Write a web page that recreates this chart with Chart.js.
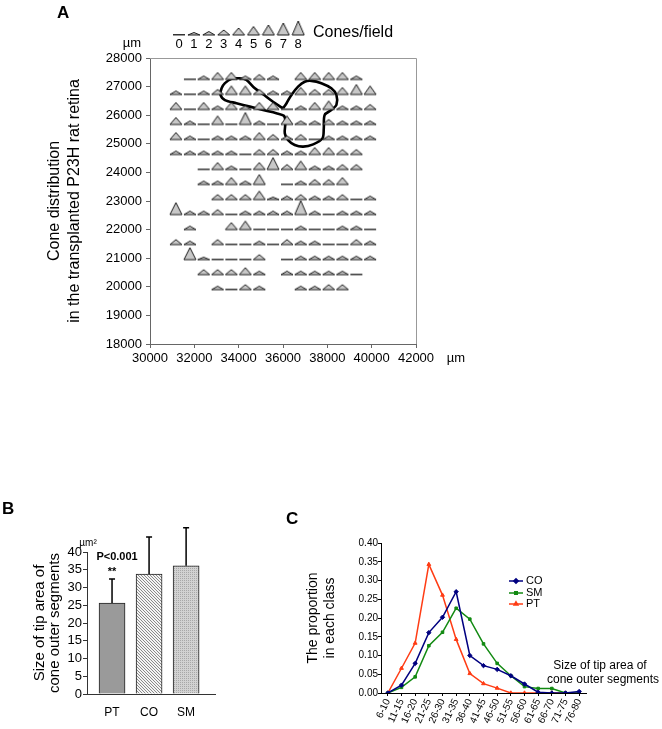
<!DOCTYPE html>
<html>
<head>
<meta charset="utf-8">
<script src="https://cdn.jsdelivr.net/npm/chart.js@4.4.1/dist/chart.umd.min.js"></script>
<style>
  body { margin: 0; background: #fff; width: 662px; height: 729px; position: relative; overflow: hidden;
         font-family: "Liberation Sans", Arial, sans-serif; }
  canvas { position: absolute; }
  .panel { position: absolute; font-weight: bold; font-size: 17px; line-height: 17px; }
</style>
</head>
<body>
<canvas id="coneMap" width="470" height="375" style="left:0;top:0"></canvas>
<canvas id="tipBars" width="240" height="250" style="left:0;top:470px"></canvas>
<canvas id="tipDist" width="412" height="229" style="left:250px;top:500px"></canvas>
<div class="panel" style="left:57px;top:4px">A</div>
<div class="panel" style="left:2px;top:500px">B</div>
<div class="panel" style="left:286px;top:510px">C</div>

<script>
// ---- panel A : cone map ----
const colX = [31170, 31800, 32420, 33050, 33670, 34300, 34930, 35550, 36180, 36800, 37430, 38060, 38680, 39310, 39930];
const rowY = [27250, 26725, 26200, 25675, 25150, 24625, 24100, 23575, 23050, 22525, 22000, 21475, 20950, 20425, 19900];
const _ = null;
// cones per field, one row per rowY, one column per colX (null = no field)
const conesPerField = [
  [_, 0, 2, 4, 4, 2, 3, 2, _, 4, 4, 4, 4, 2, _],
  [2, 0, 2, 3, 5, 5, 3, 2, 2, 4, 3, 3, 4, 6, 5],
  [4, 0, 4, 2, 4, 2, 4, 4, 0, 2, 4, 5, 2, 2, 3],
  [4, 2, 0, 5, 0, 7, 2, 0, 5, 2, 2, 3, 2, 2, 2],
  [4, 2, 0, 2, 2, 2, 4, 3, 2, 3, 0, 2, 2, 2, 2],
  [2, 2, 2, 2, 2, 0, 3, 3, 2, 2, 4, 4, 3, 3, _],
  [_, _, 0, 4, 2, 0, 4, 7, 3, 5, 2, 2, 3, 3, _],
  [_, _, 2, 2, 4, 2, 6, _, 0, 2, 3, 3, 4, _, _],
  [_, _, _, 3, 3, 3, 5, 1, 2, 3, 2, 2, 3, 0, 2],
  [7, 2, 2, 3, 0, 2, 2, 2, 2, 8, 2, 0, 2, 2, 2],
  [_, 2, _, _, 4, 5, 0, 0, 0, 2, 0, 0, 2, 2, 0],
  [3, 2, _, 3, 0, 0, 2, 0, 3, 2, 2, 0, 0, 3, 2],
  [_, 7, 1, 0, 0, 0, 3, _, 0, 2, 2, 2, 2, 2, 2],
  [_, _, 3, 3, 3, 4, 2, _, 2, 2, 2, 2, 2, 0, _],
  [_, _, _, 2, 0, 3, 2, _, _, 2, 2, 3, 3, _, _]
];
const legendCounts = [0, 1, 2, 3, 4, 5, 6, 7, 8];
// graft outline
const outlineX = [36000, 35550, 35100, 34730, 34350, 34050, 33680, 33380, 33230, 33180, 33380, 33900, 34500, 35100, 35700, 36040,
  36110, 36080, 36230, 36530, 36910, 37360, 37780, 37840, 37880, 38180, 38410, 38410, 38180, 37730, 37280, 36980, 36680, 36380, 36160, 36000];
const outlineY = [26240, 26470, 26730, 26940, 27230, 27290, 27270, 27120, 26940, 26710, 26530, 26420, 26300, 26180, 26070, 25980,
  25770, 25370, 25130, 24960, 24900, 24980, 25190, 25540, 26010, 26180, 26360, 26710, 26940, 27120, 27200, 27170, 27000, 26710, 26420, 26240];

// ---- panel B : tip area ----
const bLabels = ['PT', 'CO', 'SM'];
const bMeans = [25.6, 33.8, 36.1];
const bSD = [6.8, 10.4, 10.7];

// ---- panel C : size distribution ----
const cLabels = ['6-10', '11-15', '16-20', '21-25', '26-30', '31-35', '36-40', '41-45', '46-50', '51-55', '56-60', '61-65', '66-70', '71-75', '76-80'];
const coVals = [0, 0.021, 0.079, 0.161, 0.202, 0.270, 0.100, 0.073, 0.063, 0.046, 0.024, 0.002, 0, 0, 0.004];
const smVals = [0, 0.015, 0.043, 0.126, 0.162, 0.226, 0.197, 0.131, 0.079, 0.046, 0.017, 0.012, 0.012, 0, 0];
const ptVals = [0, 0.066, 0.133, 0.343, 0.261, 0.143, 0.052, 0.025, 0.013, 0, 0, 0, 0, 0, 0];

Chart.defaults.font.family = '"Liberation Sans", Arial, sans-serif';
Chart.defaults.color = '#000';

// triangle glyph per cone count, base sits on the point's y
const triH = [0, 2.5, 3.5, 5, 7, 8.5, 10, 12, 14];
function triImg(n) {
  const c = document.createElement('canvas');
  c.width = 14; c.height = 32;
  const g = c.getContext('2d');
  if (n === 0) {
    g.fillStyle = '#333';
    g.fillRect(1, 15, 12, 1.5);
  } else {
    g.beginPath();
    g.moveTo(1, 16); g.lineTo(7, 16 - triH[n]); g.lineTo(13, 16); g.closePath();
    g.fillStyle = '#c8c8c8'; g.fill();
    g.strokeStyle = '#1a1a1a'; g.lineWidth = 1; g.stroke();
  }
  return c;
}
const triImgs = legendCounts.map(triImg);

const conePoints = [];
conesPerField.forEach((row, r) => row.forEach((n, c) => {
  if (n !== null) conePoints.push({ x: colX[c], y: rowY[r], n: n });
}));

const mapExtras = {
  id: 'mapExtras',
  beforeDatasetsDraw(chart) {
    const { ctx, chartArea: a } = chart;
    ctx.save();
    ctx.strokeStyle = '#999'; ctx.lineWidth = 1;
    ctx.beginPath();
    ctx.moveTo(a.left, a.top + 0.5); ctx.lineTo(a.right + 0.5, a.top + 0.5); ctx.lineTo(a.right + 0.5, a.bottom);
    ctx.stroke();
    ctx.restore();
  },
  afterDraw(chart) {
    const ctx = chart.ctx;
    ctx.save();
    ctx.fillStyle = '#000';
    ctx.textAlign = 'center'; ctx.textBaseline = 'middle';
    ctx.font = '13px "Liberation Sans", Arial, sans-serif';
    legendCounts.forEach((n, i) => {
      const x = 179 + i * 14.9;
      ctx.drawImage(triImgs[n], x - 7, 35 - 16);
      ctx.fillText(String(n), x, 44);
    });
    ctx.fillText('\u00b5m', 132, 43);
    ctx.fillText('\u00b5m', 456, 358);
    ctx.textAlign = 'left';
    ctx.font = '16px "Liberation Sans", Arial, sans-serif';
    ctx.fillText('Cones/field', 313, 33);
    ctx.restore();
  }
};

new Chart(document.getElementById('coneMap'), {
  type: 'scatter',
  data: {
    datasets: [
      {
        data: conePoints,
        pointStyle: ctx => triImgs[ctx.raw ? ctx.raw.n : 0],
        pointRadius: 3
      },
      {
        data: outlineX.map((x, i) => ({ x: x, y: outlineY[i] })),
        showLine: true,
        borderColor: '#000',
        borderWidth: 2.6,
        pointRadius: 0,
        tension: 0.3,
        fill: false
      }
    ]
  },
  options: {
    responsive: false,
    animation: false,
    layout: { padding: { top: 58, right: 54, left: 0, bottom: 0 } },
    plugins: { legend: { display: false }, tooltip: { enabled: false } },
    scales: {
      x: {
        type: 'linear', min: 30000, max: 42000,
        afterFit: s => { s.height = 31; },
        ticks: { stepSize: 2000, font: { size: 13 }, padding: 3, callback: v => String(v) },
        grid: { drawOnChartArea: false, tickLength: 4, color: '#666' },
        border: { color: '#666' }
      },
      y: {
        min: 18000, max: 28000,
        afterFit: s => { s.width = 150; },
        ticks: { stepSize: 1000, font: { size: 13 }, padding: 4, callback: v => String(v) },
        grid: { drawOnChartArea: false, tickLength: 4, color: '#666' },
        border: { color: '#666' },
        title: {
          display: true,
          text: ['Cone distribution', 'in the transplanted P23H rat retina'],
          font: { size: 16, lineHeight: 1.25 },
          padding: { top: 45, bottom: 0 }
        }
      }
    }
  },
  plugins: [mapExtras]
});

// ---- panel B ----
function hatchFill() {
  const c = document.createElement('canvas');
  c.width = 3; c.height = 3;
  const g = c.getContext('2d');
  g.fillStyle = '#f4f4f4'; g.fillRect(0, 0, 3, 3);
  g.fillStyle = '#8a8a8a';
  for (let i = 0; i < 3; i++) g.fillRect(i, i, 1, 1);
  return g.createPattern(c, 'repeat');
}
function dotFill() {
  const c = document.createElement('canvas');
  c.width = 2; c.height = 2;
  const g = c.getContext('2d');
  g.fillStyle = '#d2d2d2'; g.fillRect(0, 0, 2, 2);
  g.fillStyle = '#a8a8a8'; g.fillRect(0, 0, 1, 1);
  return g.createPattern(c, 'repeat');
}

const errorBars = {
  id: 'errorBars',
  afterDatasetsDraw(chart) {
    const { ctx } = chart;
    const ys = chart.scales.y;
    const bars = chart.getDatasetMeta(0).data;
    ctx.save();
    ctx.strokeStyle = '#000'; ctx.lineWidth = 1.5;
    bars.forEach((bar, i) => {
      const top = ys.getPixelForValue(bMeans[i] + bSD[i]);
      const base = ys.getPixelForValue(bMeans[i]);
      ctx.beginPath();
      ctx.moveTo(bar.x, base); ctx.lineTo(bar.x, top);
      ctx.moveTo(bar.x - 3, top); ctx.lineTo(bar.x + 3, top);
      ctx.stroke();
    });
    const pt = bars[0];
    const ptTop = ys.getPixelForValue(bMeans[0] + bSD[0]);
    ctx.fillStyle = '#000';
    ctx.textAlign = 'center'; ctx.textBaseline = 'middle';
    ctx.font = 'bold 11px "Liberation Sans", Arial, sans-serif';
    ctx.fillText('P<0.001', pt.x + 5, ptTop - 22);
    ctx.fillText('**', pt.x, ptTop - 7);
    ctx.font = '10px "Liberation Sans", Arial, sans-serif';
    ctx.fillText('\u00b5m\u00b2', 88, 73);
    ctx.restore();
  }
};

new Chart(document.getElementById('tipBars'), {
  type: 'bar',
  data: {
    datasets: [{
      data: bLabels.map((l, i) => ({ x: i + 1, y: bMeans[i] })),
      backgroundColor: ['#9a9a9a', hatchFill(), dotFill()],
      borderColor: '#222',
      borderWidth: 1,
      barThickness: 26
    }]
  },
  options: {
    responsive: false,
    animation: false,
    layout: { padding: { top: 82, right: 25, left: 0, bottom: 0 } },
    plugins: { legend: { display: false }, tooltip: { enabled: false } },
    scales: {
      x: {
        type: 'linear', min: 0.324, max: 3.78, offset: false,
        afterFit: s => { s.height = 26; },
        ticks: { stepSize: 1, includeBounds: false, font: { size: 12 }, padding: 3,
                 callback: v => Number.isInteger(v) ? (bLabels[v - 1] || '') : '' },
        grid: { display: false },
        border: { color: '#333' }
      },
      y: {
        min: 0, max: 40,
        afterFit: s => { s.width = 87; },
        ticks: { stepSize: 5, autoSkip: false, font: { size: 13 }, padding: 1 },
        grid: { drawOnChartArea: false, tickLength: 4, color: '#333' },
        border: { color: '#333' },
        title: {
          display: true,
          text: ['Size of tip area of', 'cone outer segments'],
          font: { size: 15, lineHeight: 0.97 },
          padding: { top: 33, bottom: 0 }
        }
      }
    }
  },
  plugins: [errorBars]
});

// ---- panel C ----
const distExtras = {
  id: 'distExtras',
  afterDraw(chart) {
    const ctx = chart.ctx;
    const drawPoint = Chart.helpers && Chart.helpers.drawPoint;
    ctx.save();
    ctx.textAlign = 'left'; ctx.textBaseline = 'middle';
    ctx.font = '11px "Liberation Sans", Arial, sans-serif';
    const rowsY = [81, 93, 104];
    chart.data.datasets.forEach((ds, i) => {
      const y = rowsY[i];
      ctx.strokeStyle = ds.borderColor; ctx.lineWidth = 1.5;
      ctx.beginPath(); ctx.moveTo(259, y); ctx.lineTo(273, y); ctx.stroke();
      if (drawPoint) {
        ctx.fillStyle = ds.borderColor;
        drawPoint(ctx, { pointStyle: ds.pointStyle, radius: ds.pointRadius, rotation: 0, borderWidth: 1 }, 266, y);
      }
      ctx.fillStyle = '#000';
      ctx.fillText(ds.label, 276, y);
    });
    ctx.textAlign = 'center';
    ctx.font = '12px "Liberation Sans", Arial, sans-serif';
    ctx.fillText('Size of tip area of', 350, 166);
    ctx.fillText('cone outer segments', 353, 180);
    ctx.restore();
  }
};

new Chart(document.getElementById('tipDist'), {
  type: 'line',
  data: {
    labels: cLabels,
    datasets: [
      { label: 'CO', data: coVals, borderColor: '#000080', backgroundColor: '#000080', pointStyle: 'rectRot', pointRadius: 2.2 },
      { label: 'SM', data: smVals, borderColor: '#128a12', backgroundColor: '#128a12', pointStyle: 'rect', pointRadius: 1.8 },
      { label: 'PT', data: ptVals, borderColor: '#ff3c14', backgroundColor: '#ff3c14', pointStyle: 'triangle', pointRadius: 2.2 }
    ]
  },
  options: {
    responsive: false,
    animation: false,
    elements: { line: { borderWidth: 1.5, tension: 0 }, point: { borderWidth: 1 } },
    layout: { padding: { top: 43, right: 76, left: 0, bottom: 0 } },
    plugins: { legend: { display: false }, tooltip: { enabled: false } },
    scales: {
      x: {
        offset: true,
        afterFit: s => { s.height = 36; },
        ticks: { autoSkip: false, minRotation: 65, maxRotation: 65, font: { size: 10 }, padding: 1 },
        grid: { drawOnChartArea: false, tickLength: 3, color: '#000' },
        border: { color: '#000' }
      },
      y: {
        min: 0, max: 0.4,
        afterFit: s => { s.width = 131; },
        ticks: { stepSize: 0.05, font: { size: 10 }, padding: 0, callback: v => v.toFixed(2) },
        grid: { drawOnChartArea: false, tickLength: 3, color: '#000' },
        border: { color: '#000' },
        title: {
          display: true,
          text: ['The proportion', 'in each class'],
          font: { size: 14, lineHeight: 1.2 },
          padding: { top: 55, bottom: 0 }
        }
      }
    }
  },
  plugins: [distExtras]
});
</script>
</body>
</html>
